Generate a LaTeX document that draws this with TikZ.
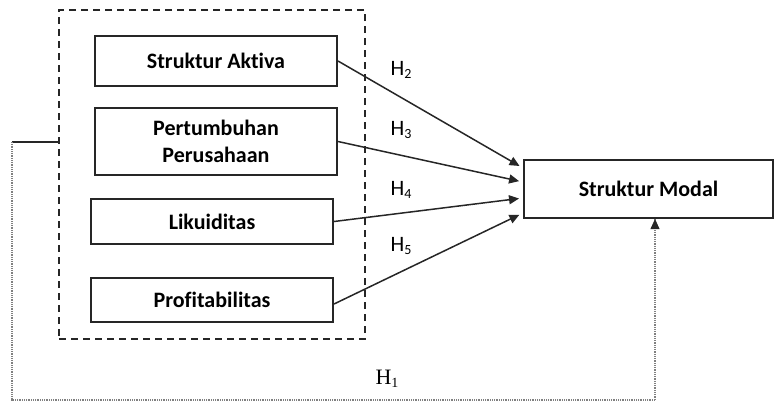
\documentclass[tikz,border=0pt]{standalone}
\usepackage{fontspec}
\setmainfont[Ligatures={NoCommon}]{Carlito}
\newfontfamily\hserif{Liberation Serif}
\usetikzlibrary{arrows.meta,calc}
\newcommand{\hsub}[1]{H\raisebox{-0.35ex}{\fontsize{7}{8}\selectfont #1}}
\begin{document}
\begin{tikzpicture}[x=0.5pt,y=-0.5pt,
  varbox/.style={draw=black!85,line width=1pt,minimum width=121pt,inner sep=0pt,align=center,font=\fontsize{11}{13.5}\selectfont\bfseries},
  grpbox/.style={draw=black!85,line width=1pt,dash pattern=on 3.5pt off 2.5pt,minimum width=153pt,minimum height=164.5pt,inner sep=0pt},
  arr/.style={draw=black!85,line width=0.75pt,-{Triangle[length=5pt,width=4.5pt]},shorten >=2pt},
  dotline/.style={draw=black!50,line width=0.9pt,dash pattern=on 0.4pt off 0.5pt},
  hlab/.style={font=\fontsize{11}{13}\selectfont,inner sep=0pt}]
\useasboundingbox (0,0) rectangle (775,402);
\node[grpbox] (grp) at (212,174.5) {};
\node[varbox,minimum height=25pt] (sa) at (216,61) {Struktur Aktiva};
\node[varbox,minimum height=33.5pt] (pp) at (216,141.5) {Pertumbuhan\\Perusahaan};
\node[varbox,minimum height=22.5pt] (lk) at (212,221.5) {Likuiditas};
\node[varbox,minimum height=22pt] (pf) at (212,300) {Profitabilitas};
\node[varbox,minimum width=124.5pt,minimum height=29pt] (sm) at (648.5,189) {Struktur Modal};
\node[hlab] (h2) at (401,70) {\hsub{2}};
\node[hlab] (h3) at (401,130) {\hsub{3}};
\node[hlab] (h4) at (401,190) {\hsub{4}};
\node[hlab] (h5) at (401,246) {\hsub{5}};
\node[hlab,font=\hserif\fontsize{11}{13}\selectfont] (h1) at (387,379) {\hsub{1}};
\draw[arr] (sa.east) -- ([yshift=10.5pt]sm.west);
\draw[arr] (pp.east) -- ([yshift=3.5pt]sm.west);
\draw[arr] (lk.east) -- ([yshift=-4.5pt]sm.west);
\draw[arr] ([yshift=-2pt]pf.east) -- ([yshift=-12pt]sm.west);
\coordinate (c1) at (12,142);
\coordinate (c2) at (12,400);
\coordinate (c3) at (655,400);
\draw[draw=black!85,line width=0.75pt] ([yshift=16.25pt]grp.west) -- (c1);
\draw[dotline] (c1) -- (c2) -- (c3);
\draw[dotline] (c3) -- (c3 |- sm.south);
\draw[draw=black!85,-{Triangle[length=5pt,width=4.5pt]}] ([yshift=-4pt]c3 |- sm.south) -- (c3 |- sm.south);
\end{tikzpicture}
\end{document}
